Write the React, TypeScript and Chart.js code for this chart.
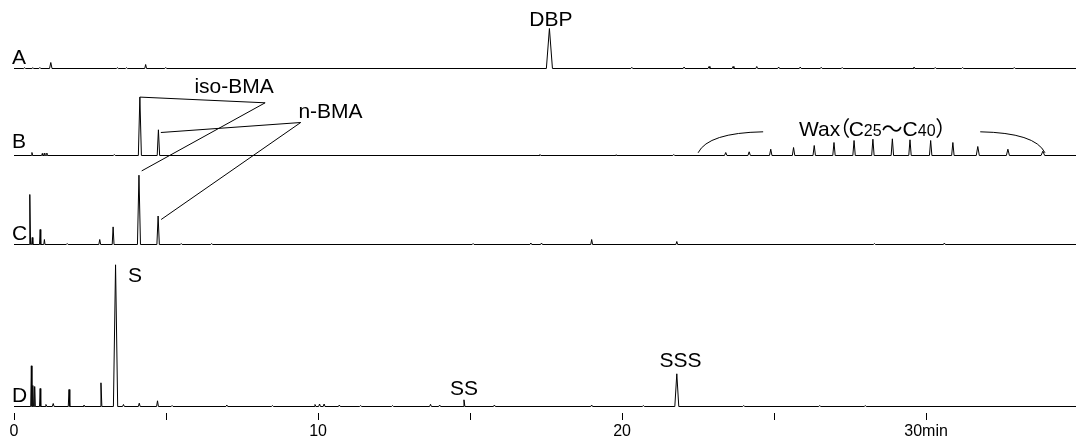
import React, { useEffect, useRef } from "react";
import { Chart, registerables } from "chart.js";

Chart.register(...registerables);

// ---------------- data ----------------
const X_MAX = 34.93; // minutes shown
const TICK_VALUES = [0, 5, 10, 15, 20, 25, 30];
const TICK_LABELS = ["0", "", "10", "", "20", "", "30min"];

const TRACE_NAMES = ["A", "B", "C", "D"];

// Trace A: retention time (min), peak height (a.u.), half width (min)
const A_TIMES = [0.35, 0.62, 0.85, 1.21, 3.4, 3.7, 4.33, 4.99, 17.61, 20.32, 22.04, 22.86, 23.65, 24.43, 25.15, 25.86, 26.55, 27.24, 29.6, 30.3, 31.2, 32.9];
const A_HEIGHTS = [0.8, 0.8, 1, 6, 0.8, 0.8, 4, 1, 40, 1.2, 1.5, 2, 2, 2, 1.5, 1.5, 1.2, 1, 1.5, 1, 1, 1];
const A_WIDTHS = [0.03, 0.03, 0.03, 0.04, 0.03, 0.03, 0.03, 0.03, 0.1, 0.03, 0.03, 0.03, 0.03, 0.03, 0.03, 0.03, 0.03, 0.03, 0.03, 0.03, 0.03, 0.03];

// Trace B
const B_TIMES = [0.59, 0.93, 1.01, 1.08, 3.3, 4.14, 4.75, 17.3, 19.8, 21.7, 23.41, 24.18, 24.89, 25.64, 26.32, 26.97, 27.63, 28.25, 28.89, 29.47, 30.15, 30.88, 31.7, 32.69, 33.84];
const B_HEIGHTS = [3, 2, 2.5, 2.5, 1, 58.4, 25.7, 1, 0.8, 1, 3, 3.7, 6.3, 8, 10, 13, 15, 16.3, 16.7, 15.7, 15, 13, 9, 6.3, 4.3];
const B_WIDTHS = [0.02, 0.02, 0.02, 0.02, 0.03, 0.05, 0.04, 0.03, 0.03, 0.03, 0.04, 0.04, 0.04, 0.04, 0.04, 0.04, 0.04, 0.04, 0.04, 0.04, 0.04, 0.04, 0.05, 0.05, 0.06];

// Trace C
const C_TIMES = [0.52, 0.6, 0.86, 1.0, 1.75, 2.82, 3.26, 4.11, 4.74, 5.5, 6.5, 15.1, 17.0, 17.35, 19.0, 21.8, 28.3, 30.6];
const C_HEIGHTS = [50, 7, 15, 5, 1, 5, 17.6, 69.3, 28.5, 1, 1, 1, 1.5, 1.5, 5, 3, 1, 1.5];
const C_WIDTHS = [0.025, 0.02, 0.02, 0.02, 0.03, 0.03, 0.03, 0.05, 0.04, 0.03, 0.03, 0.03, 0.03, 0.03, 0.03, 0.03, 0.03, 0.03];

// Trace D
const D_TIMES = [0.57, 0.62, 0.68, 0.86, 1.05, 1.29, 1.81, 2.3, 2.86, 3.34, 3.6, 4.12, 4.72, 5.2, 7.0, 8.5, 9.9, 10.05, 10.2, 10.7, 11.4, 12.45, 13.7, 14.0, 14.8, 15.8, 19.0, 20.7, 21.8, 24.0, 26.5, 28.0];
const D_HEIGHTS = [40.7, 21, 20, 18, 2, 3, 17, 1.5, 23.7, 141.7, 2, 3.3, 5.7, 1, 1.5, 1, 2, 2.5, 2.5, 1.5, 1, 1, 2.2, 1.5, 6.7, 1.5, 1.5, 1, 32.7, 1, 1, 1];
const D_WIDTHS = [0.02, 0.02, 0.02, 0.02, 0.03, 0.03, 0.025, 0.03, 0.03, 0.07, 0.03, 0.03, 0.03, 0.03, 0.03, 0.03, 0.03, 0.03, 0.03, 0.03, 0.03, 0.03, 0.03, 0.03, 0.03, 0.03, 0.03, 0.03, 0.065, 0.03, 0.03, 0.03];

// Peak labels: text, time, trace, height above that trace's baseline
const LABEL_TEXTS = ["DBP", "iso-BMA", "n-BMA", "S", "SS", "SSS"];
const LABEL_TIMES = [17.66, 7.24, 10.41, 3.75, 14.8, 21.92];
const LABEL_TRACES = ["A", "B", "B", "D", "D", "D"];
const LABEL_LEVELS = [42.3, 63, 38, 124.4, 11.7, 40];

// ---------------- layout / styles ----------------
const TRACE_OFFSETS: Record<string, number> = { A: 338, B: 251, C: 162, D: 0 };
const LATIN = '"Liberation Sans", Arial, Helvetica, sans-serif';
const CJK = '"Noto Sans CJK JP", "Noto Sans CJK SC", sans-serif';

type Pt = [number, string, number]; // time, trace, level

const LEADERS: Pt[][] = [
  [[4.14, "B", 58.4], [8.26, "B", 52.7], [4.2, "C", 73.6]],
  [[4.83, "B", 23], [9.43, "B", 33], [4.84, "C", 25]],
];
const BRACKETS: Pt[][] = [
  [[22.5, "B", 2.7], [22.83, "B", 22.7], [24.64, "B", 23.7]],
  [[31.78, "B", 23.7], [33.59, "B", 22.7], [33.91, "B", 2.7]],
];

function buildTrace(times: number[], heights: number[], widths: number[], offset: number) {
  const pts: { x: number; y: number }[] = [{ x: 0, y: offset }];
  let last = 0;
  times.forEach((t, i) => {
    const w = widths[i];
    const a = Math.max(t - w, last);
    pts.push({ x: a, y: offset }, { x: t, y: offset + heights[i] }, { x: t + w, y: offset });
    last = t + w;
  });
  pts.push({ x: X_MAX, y: offset });
  return pts;
}

const annotationPlugin = {
  id: "chromAnnotations",
  afterDatasetsDraw(chart: any) {
    const ctx: CanvasRenderingContext2D = chart.ctx;
    const xs = chart.scales.x;
    const ys = chart.scales.y;
    const px = (t: number) => xs.getPixelForValue(t);
    const py = (tr: string, lv: number) => ys.getPixelForValue(TRACE_OFFSETS[tr] + lv);
    ctx.save();
    ctx.strokeStyle = "#000";
    ctx.fillStyle = "#000";
    ctx.lineWidth = 1;

    // leader lines
    LEADERS.forEach((line) => {
      ctx.beginPath();
      line.forEach(([t, tr, lv], i) => {
        if (i === 0) ctx.moveTo(px(t), py(tr, lv));
        else ctx.lineTo(px(t), py(tr, lv));
      });
      ctx.stroke();
    });
    // wax brackets
    BRACKETS.forEach(([p0, p1, p2]) => {
      ctx.beginPath();
      ctx.moveTo(px(p0[0]), py(p0[1], p0[2]));
      ctx.quadraticCurveTo(px(p1[0]), py(p1[1], p1[2]), px(p2[0]), py(p2[1], p2[2]));
      ctx.stroke();
    });

    ctx.textBaseline = "alphabetic";
    ctx.font = `21px ${LATIN}`;
    // trace letters
    const letterLevels: Record<string, number> = { A: 5, B: 7.4, C: 4.3, D: 5 };
    ctx.textAlign = "left";
    TRACE_NAMES.forEach((n) => {
      ctx.fillText(n, px(-0.066), py(n, letterLevels[n]));
    });
    // peak labels
    LABEL_TEXTS.forEach((txt, i) => {
      ctx.textAlign = txt === "S" ? "left" : "center";
      ctx.fillText(txt, px(LABEL_TIMES[i]), py(LABEL_TRACES[i], LABEL_LEVELS[i]));
    });

    // Wax（C25～C40）
    ctx.textAlign = "left";
    let x = px(25.82);
    const y = py("B", 19.7);
    const big = 21;
    const small = 16;
    const draw = (s: string, font: string, adv?: number, dx = 0) => {
      ctx.font = font;
      ctx.fillText(s, x + dx, y);
      x += adv !== undefined ? adv : ctx.measureText(s).width;
    };
    draw("Wax", `${big}px ${LATIN}`);
    draw("（", `${big}px ${CJK}`, big * 0.4, -big * 0.52);
    draw("C", `${big}px ${LATIN}`);
    draw("25", `${small}px ${LATIN}`);
    draw("～", `${big}px ${CJK}`);
    draw("C", `${big}px ${LATIN}`);
    draw("40", `${small}px ${LATIN}`);
    draw("）", `${big}px ${CJK}`, big * 0.5, -big * 0.02);
    ctx.restore();
  },
};

export default function App() {
  const ref = useRef<HTMLCanvasElement | null>(null);
  useEffect(() => {
    if (!ref.current) return;
    const traces = [
      buildTrace(A_TIMES, A_HEIGHTS, A_WIDTHS, TRACE_OFFSETS.A),
      buildTrace(B_TIMES, B_HEIGHTS, B_WIDTHS, TRACE_OFFSETS.B),
      buildTrace(C_TIMES, C_HEIGHTS, C_WIDTHS, TRACE_OFFSETS.C),
      buildTrace(D_TIMES, D_HEIGHTS, D_WIDTHS, TRACE_OFFSETS.D),
    ];
    const chart = new Chart(ref.current, {
      type: "line",
      data: {
        datasets: traces.map((d, i) => ({
          label: TRACE_NAMES[i],
          data: d,
          borderColor: "#000",
          borderWidth: 1,
          pointRadius: 0,
          fill: false,
          tension: 0,
          clip: false,
        })),
      },
      options: {
        responsive: false,
        animation: false,
        devicePixelRatio: 1,
        events: [],
        layout: { padding: { left: 14, right: 0, top: 0, bottom: 0 } },
        plugins: { legend: { display: false }, tooltip: { enabled: false } },
        scales: {
          x: {
            type: "linear",
            min: 0,
            max: X_MAX,
            border: { display: false },
            grid: { drawOnChartArea: false, drawTicks: true, tickLength: 7, color: "#000", lineWidth: 1 },
            afterBuildTicks: (scale: any) => {
              scale.ticks = TICK_VALUES.map((v) => ({ value: v }));
            },
            afterFit: (scale: any) => {
              scale.height = 29;
            },
            ticks: {
              autoSkip: false,
              maxRotation: 0,
              padding: 2,
              color: "#000",
              font: { family: LATIN, size: 16 },
              callback: (v: any) => {
                const i = TICK_VALUES.indexOf(Number(v));
                return i >= 0 ? TICK_LABELS[i] : "";
              },
            },
          },
          y: { display: false, min: -6.5, max: 406.5 },
        },
      },
      plugins: [annotationPlugin],
    } as any);
    return () => chart.destroy();
  }, []);
  return (
    <div style={{ position: "absolute", left: 0, top: 0, width: 1076, height: 442, background: "#fff" }}>
      <canvas ref={ref} width={1076} height={442} style={{ display: "block" }} />
    </div>
  );
}
